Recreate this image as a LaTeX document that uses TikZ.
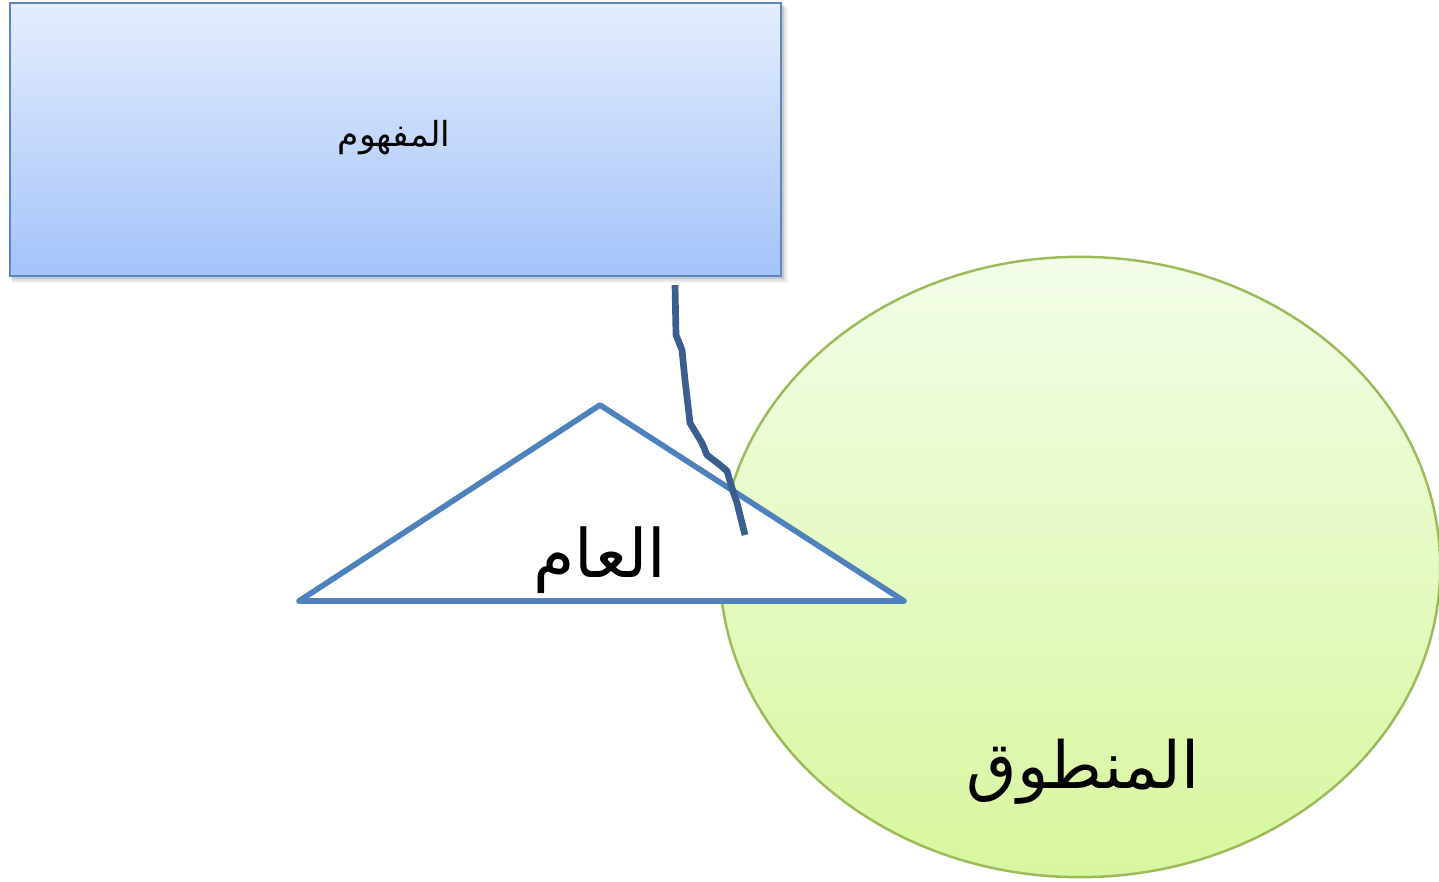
\documentclass[tikz,border=0pt]{standalone}
\usepackage{fontspec}
\newfontfamily\arabicfont[Script=Arabic]{DejaVu Sans}
\TeXXeTstate=1
\usetikzlibrary{shapes.geometric}
\definecolor{rectTop}{HTML}{E4EDFD}
\definecolor{rectBot}{HTML}{A4C3FA}
\definecolor{rectLine}{HTML}{5B87C4}
\definecolor{ellTop}{HTML}{F3FDE8}
\definecolor{ellBot}{HTML}{D8F69E}
\definecolor{ellLine}{HTML}{9BBB59}
\definecolor{triLine}{HTML}{4F81BD}
\definecolor{waveLine}{HTML}{3A5F8E}
\tikzset{
  conceptbox/.style={draw=rectLine, line width=0.7pt, top color=rectTop, bottom color=rectBot,
    minimum width=7.71cm, minimum height=2.73cm, inner sep=0pt},
  spokenell/.style={ellipse, draw=ellLine, line width=0.7pt, top color=ellTop, bottom color=ellBot,
    minimum width=7.2cm, minimum height=6.2cm, inner sep=0pt},
  triline/.style={draw=triLine, fill=white, line width=1.6pt, line join=round},
  waveline/.style={draw=waveLine, line width=1.9pt, line join=round},
  artext/.style={inner sep=0pt, text=black}
}
\begin{document}
\begin{tikzpicture}[x=0.01cm,y=-0.01cm]
\useasboundingbox (0,0) rectangle (1439,881);
% shadow of the box
\fill[black,opacity=0.05] (12,8) rectangle (788,283);
\fill[black,opacity=0.08] (12,6) rectangle (786,281);
\fill[black,opacity=0.10] (12,5) rectangle (784,279);
\node[conceptbox] (mafhum) at (395.5,139.5) {};
\node[artext] (mafhumtxt) at (394,138) {\arabicfont\fontsize{9.8pt}{12pt}\selectfont\beginR المفهوم\endR};
% ellipse
\node[spokenell] (mantuq) at (1080,567) {};
\node[artext] (mantuqtxt) at (1083,772) {\arabicfont\fontsize{18.5pt}{22pt}\selectfont\beginR المنطوق\endR};
% triangle
\coordinate (tA) at (600,405);
\coordinate (tB) at (904,601);
\coordinate (tC) at (299,601);
\draw[triline] (tA) -- (tB) -- (tC) -- cycle;
\node[artext] (aam) at (600,560) {\arabicfont\fontsize{19pt}{23pt}\selectfont\beginR العام\endR};
% wavy connector
\coordinate (w0) at (675,285);
\coordinate (w1) at (745,535);
\draw[waveline] (w0) -- (676,335) -- (682,350) -- (685,380) -- (690,423) -- (702,443)
  -- (707,455) -- (720,465) -- (727,471) -- (732,488) -- (737,503) -- (w1);
\end{tikzpicture}
\end{document}
